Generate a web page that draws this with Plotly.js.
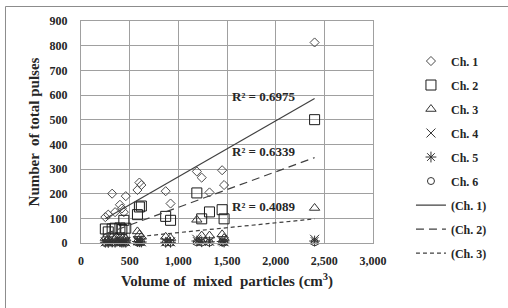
<!DOCTYPE html>
<html>
<head>
<meta charset="utf-8">
<script src="https://cdn.plot.ly/plotly-3.0.1.min.js"></script>
<style>
  html, body { margin: 0; padding: 0; background: #fff; }
  #chart { width: 508px; height: 308px; }
</style>
</head>
<body>
<div id="chart"></div>
<script>
// Volume of mixed particles (cm3), shared by all channels
const volume = [250, 280, 320, 350, 400, 420, 440, 460, 580, 600, 620, 870, 920, 1190, 1240, 1320, 1450, 1470, 2400];
// Number of total pulses per channel
const ch1 = [105, 115, 200, 125, 155, 140, 125, 190, 215, 245, 235, 210, 160, 290, 265, 205, 295, 235, 813];
const ch2 = [57, 45, 57, 60, 61, 55, 92, 60, 115, 146, 150, 108, 92, 203, 98, 126, 135, 98, 500];
const ch3 = [20, 15, 25, 18, 20, 22, 25, 18, 47, 35, 25, 25, 20, 94, 30, 30, 35, 20, 142];
const ch4 = [5, 3, 5, 5, 8, 5, 6, 5, 10, 8, 5, 5, 5, 15, 10, 8, 10, 5, 15];
const ch5 = [3, 2, 4, 3, 5, 3, 4, 3, 6, 5, 4, 3, 3, 8, 5, 5, 6, 4, 8];
const ch6 = [1, 1, 2, 1, 2, 1, 2, 1, 3, 2, 2, 1, 1, 3, 2, 2, 3, 2, 3];
const seriesNames = ["Ch. 1", "Ch. 2", "Ch. 3", "Ch. 4", "Ch. 5", "Ch. 6"];
const trendNames = ["(Ch. 1)", "(Ch. 2)", "(Ch. 3)"];
const r2Labels = ["R² = 0.6975", "R² = 0.6339", "R² = 0.4089"];
const xTicks = [0, 500, 1000, 1500, 2000, 2500, 3000];
const yTicks = [0, 100, 200, 300, 400, 500, 600, 700, 800, 900];

const FONT = "'Liberation Serif', 'Times New Roman', serif";
const INK = "#262626";

function linfit(x, y) {
  const n = x.length;
  const mx = x.reduce((a, b) => a + b, 0) / n;
  const my = y.reduce((a, b) => a + b, 0) / n;
  let sxy = 0, sxx = 0;
  for (let i = 0; i < n; i++) { sxy += (x[i] - mx) * (y[i] - my); sxx += (x[i] - mx) ** 2; }
  const b = sxy / sxx;
  return { b: b, a: my - b * mx };
}

const symbols = [
  {symbol: "diamond-open", size: 7, color: "#4a4a4a"},
  {symbol: "square-open", size: 10, color: "#1a1a1a"},
  {symbol: "triangle-up-open", size: 9, color: "#333333"},
  {symbol: "x-thin-open", size: 9, color: "#333333"},
  {symbol: "asterisk-open", size: 9, color: "#333333"},
  {symbol: "circle-open", size: 7, color: "#333333"}
];
const allY = [ch1, ch2, ch3, ch4, ch5, ch6];

const traces = [];
allY.forEach((ys, i) => {
  traces.push({
    type: "scatter", mode: "markers", x: volume, y: ys, name: seriesNames[i],
    legendgroup: "g" + i,
    marker: {symbol: symbols[i].symbol, size: symbols[i].size, color: symbols[i].color,
             line: {color: symbols[i].color, width: 1}},
    cliponaxis: false
  });
});

const dashes = ["solid", "8px,5px", "4px,3px"];
const xmin = Math.min(...volume), xmax = Math.max(...volume);
[ch1, ch2, ch3].forEach((ys, i) => {
  const f = linfit(volume, ys);
  traces.push({
    type: "scatter", mode: "lines", x: [xmin, xmax], y: [f.a + f.b * xmin, f.a + f.b * xmax],
    name: trendNames[i], legendgroup: "t" + i,
    line: {color: "#404040", width: 1.2, dash: dashes[i]}
  });
});

const r2Y = [594, 371, 146];
const annotations = r2Labels.map((t, i) => ({
  x: 1532, y: r2Y[i], xref: "x", yref: "y", text: t, showarrow: false,
  xanchor: "left", yanchor: "middle",
  font: {family: FONT, size: 13, color: INK, weight: "bold"}
}));

const axisCommon = {
  showgrid: true, gridcolor: "#a0a0a0", gridwidth: 1,
  zeroline: false, showline: true, linecolor: "#a0a0a0", linewidth: 1, mirror: true,
  ticks: "", tickfont: {family: FONT, size: 12, color: INK, weight: "bold"}
};

// outer chart-area frame (top and left edges visible in the crop)
const frameShapes = [
  {type: "line", xref: "paper", yref: "paper", x0: -0.2586, x1: 1.5, y0: 1.0653, y1: 1.0653,
   line: {color: "#8c8c8c", width: 1}},
  {type: "line", xref: "paper", yref: "paper", x0: -0.2586, x1: -0.2586, y0: 1.0653, y1: -0.5,
   line: {color: "#8c8c8c", width: 1}}
];

const layout = {
  width: 508, height: 308,
  margin: {l: 81, r: 135, t: 21, b: 65, pad: 0},
  paper_bgcolor: "#ffffff", plot_bgcolor: "#ffffff",
  showlegend: true,
  legend: {x: 1.13, xanchor: "left", y: 0.885, yanchor: "top",
           font: {family: FONT, size: 12, color: INK, weight: "bold"},
           tracegroupgap: 5, bgcolor: "rgba(0,0,0,0)"},
  xaxis: Object.assign({}, axisCommon, {
    range: [0, 3000], tickvals: xTicks, tickformat: ",d",
    ticklabelstandoff: 7,
    title: {text: "Volume of  mixed  particles (cm<sup>3</sup>)", standoff: 8,
            font: {family: FONT, size: 15, color: INK, weight: "bold"}}
  }),
  yaxis: Object.assign({}, axisCommon, {
    range: [0, 900], tickvals: yTicks,
    ticklabelstandoff: 10,
    title: {text: "Number  of total pulses", standoff: 6,
            font: {family: FONT, size: 15, color: INK, weight: "bold"}}
  }),
  shapes: frameShapes,
  annotations: annotations
};

Plotly.newPlot("chart", traces, layout, {displayModeBar: false, staticPlot: true});
</script>
</body>
</html>
